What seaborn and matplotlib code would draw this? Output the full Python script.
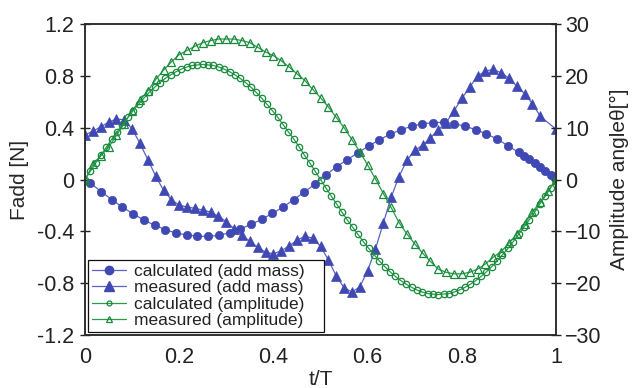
import numpy as np
import pandas as pd
import seaborn as sns
import matplotlib
matplotlib.use("Agg")
import matplotlib.pyplot as plt
from matplotlib.lines import Line2D

# ---- data -------------------------------------------------------------
# calculated added-mass force (N): odd steps of a 1/88 grid, then every step near the end
calc_mass_t = [1, 3, 5, 7, 9, 11, 13, 15, 17, 19, 21, 23, 25, 27, 29, 31, 33, 35, 37, 39,
               41, 43, 45, 47, 49, 51, 53, 55, 57, 59, 61, 63, 65, 67, 69, 71, 73, 75, 77,
               79, 81, 82, 83, 84, 85, 86, 87, 88]
calc_mass_f = [-0.028, -0.093, -0.155, -0.214, -0.265, -0.313, -0.353, -0.387, -0.413, -0.428,
               -0.438, -0.439, -0.431, -0.411, -0.382, -0.346, -0.308, -0.261, -0.213, -0.155,
               -0.096, -0.034, 0.034, 0.099, 0.153, 0.207, 0.258, 0.307, 0.349, 0.384, 0.411,
               0.429, 0.439, 0.441, 0.431, 0.411, 0.385, 0.352, 0.312, 0.262, 0.209, 0.183,
               0.155, 0.126, 0.096, 0.065, 0.035, 0.0]

# measured added-mass force (N), sampled every 1/60 period
meas_mass_t = list(range(0, 59)) + [60]
meas_mass_f = [0.345, 0.372, 0.407, 0.442, 0.467, 0.461, 0.390, 0.279, 0.153, 0.027,
               -0.083, -0.157, -0.198, -0.212, -0.223, -0.236, -0.252, -0.283, -0.326, -0.380,
               -0.430, -0.477, -0.523, -0.562, -0.574, -0.550, -0.512, -0.469, -0.438, -0.453,
               -0.516, -0.620, -0.744, -0.835, -0.868, -0.829, -0.705, -0.537, -0.336, -0.137,
               0.023, 0.147, 0.225, 0.264, 0.320, 0.385, 0.439, 0.529, 0.626, 0.712,
               0.798, 0.837, 0.850, 0.824, 0.781, 0.721, 0.662, 0.585, 0.488, 0.388]

# calculated amplitude angle (deg), every 1/88 period
calc_amp_t = list(range(0, 89))
calc_amp_deg = [0.0, 1.6, 3.2, 4.7, 6.3, 7.8, 9.2, 10.6, 12.0, 13.3, 14.5, 15.7, 16.8, 17.8,
                18.7, 19.5, 20.2, 20.8, 21.3, 21.7, 22.0, 22.1, 22.2, 22.1, 22.0, 21.7, 21.3,
                20.8, 20.2, 19.5, 18.7, 17.8, 16.8, 15.7, 14.5, 13.3, 12.0, 10.6, 9.2, 7.8,
                6.3, 4.7, 3.2, 1.6, 0.0, -1.6, -3.2, -4.7, -6.3, -7.8, -9.2, -10.6, -12.0,
                -13.3, -14.5, -15.7, -16.8, -17.8, -18.7, -19.5, -20.2, -20.8, -21.3, -21.7,
                -22.0, -22.1, -22.2, -22.1, -22.0, -21.7, -21.3, -20.8, -20.2, -19.5, -18.7,
                -17.8, -16.8, -15.7, -14.5, -13.3, -12.0, -10.6, -9.2, -7.8, -6.3, -4.7,
                -3.2, -1.6, 0.0]

# measured amplitude angle (deg), every 1/60 period
meas_amp_t = list(range(0, 61))
meas_amp_deg = [0.0, 2.9, 4.6, 6.2, 8.5, 10.8, 13.3, 15.3, 17.1, 19.3, 21.1, 22.7, 24.1,
                24.9, 25.7, 26.4, 26.8, 27.1, 27.1, 27.1, 26.8, 26.4, 25.5, 24.6, 23.9,
                22.9, 21.7, 20.4, 19.1, 17.4, 15.8, 14.0, 12.0, 10.0, 7.7, 5.4, 2.8, 0.1,
                -2.7, -5.4, -8.3, -10.5, -12.4, -14.2, -15.8, -17.3, -17.9, -18.2, -18.2,
                -17.9, -17.3, -16.3, -15.0, -13.9, -12.3, -10.5, -8.6, -6.3, -4.3, -2.2, 0.0]

labels = ["calculated (add mass)", "measured (add mass)",
          "calculated (amplitude)", "measured (amplitude)"]
x_ticks = [0, 0.2, 0.4, 0.6, 0.8, 1]
x_ticklabels = ["0", "0.2", "0.4", "0.6", "0.8", "1"]
f_ticks = [-1.2, -0.8, -0.4, 0, 0.4, 0.8, 1.2]
f_ticklabels = ["-1.2", "-0.8", "-0.4", "0", "0.4", "0.8", "1.2"]
deg_ticks = [-30, -20, -10, 0, 10, 20, 30]

df_cm = pd.DataFrame({"t": np.array(calc_mass_t) / 88, "v": calc_mass_f})
df_mm = pd.DataFrame({"t": np.array(meas_mass_t) / 60, "v": meas_mass_f})
df_ca = pd.DataFrame({"t": np.array(calc_amp_t) / 88, "v": calc_amp_deg})
df_ma = pd.DataFrame({"t": np.array(meas_amp_t) / 60, "v": meas_amp_deg})

# ---- style ------------------------------------------------------------
sns.set_theme(style="white")
plt.rcParams["font.family"] = ["Liberation Sans", "DejaVu Sans"]
plt.rcParams["axes.linewidth"] = 1.1
plt.rcParams["axes.edgecolor"] = "#2b2b2b"

BLUE = "#4049b3"
BLUE_LINE = "#5a63c2"
GREEN = "#178a3c"
GREEN_LINE = "#2a9a4a"

fig = plt.figure(figsize=(6.35, 3.88), dpi=100)
ax = fig.add_axes([0.1339, 0.1366, 0.7417, 0.8015])
ax2 = ax.twinx()

sns.lineplot(data=df_cm, x="t", y="v", ax=ax, color=BLUE_LINE, lw=0.9,
             marker="o", ms=6, mfc=BLUE, mec=BLUE, mew=0.5)
sns.lineplot(data=df_mm, x="t", y="v", ax=ax, color=BLUE_LINE, lw=0.9,
             marker="^", ms=6.8, mfc=BLUE, mec=BLUE, mew=0.5)
sns.lineplot(data=df_ca, x="t", y="v", ax=ax2, color=GREEN_LINE, lw=0.9,
             marker="o", ms=4.6, mfc="none", mec=GREEN, mew=0.9)
sns.lineplot(data=df_ma, x="t", y="v", ax=ax2, color=GREEN_LINE, lw=0.9,
             marker="^", ms=5.4, mfc="none", mec=GREEN, mew=0.9)

ax.set_xlim(0, 1)
ax.set_ylim(-1.2, 1.2)
ax2.set_ylim(-30, 30)

ax.set_xticks(x_ticks)
ax.set_xticklabels(x_ticklabels)
ax.set_yticks(f_ticks)
ax.set_yticklabels(f_ticklabels)
ax2.set_yticks(deg_ticks)

fs_tick = 15.5
fs_label = 15
ax.tick_params(axis="x", direction="out", length=4, width=1, labelsize=fs_tick, pad=5,
               colors="#222222")
ax.tick_params(axis="y", direction="inout", length=7, width=1, labelsize=fs_tick, pad=4,
               colors="#222222")
ax2.tick_params(axis="y", direction="inout", length=7, width=1, labelsize=fs_tick, pad=3,
                colors="#222222")
for a in (ax, ax2):
    for sp in a.spines.values():
        sp.set_visible(True)
        sp.set_color("#2b2b2b")
        sp.set_linewidth(1.1)

ax.set_xlabel("t/T", fontsize=fs_label, labelpad=1)
ax.set_ylabel("Fadd [N]", fontsize=fs_label, labelpad=6)
ax2.set_ylabel("Amplitude angle\u03b8[\u00b0]", fontsize=fs_label, labelpad=6)
ax.grid(False)
ax2.grid(False)

handles = [
    Line2D([], [], color=BLUE_LINE, lw=0.9, marker="o", ms=6, mfc=BLUE, mec=BLUE),
    Line2D([], [], color=BLUE_LINE, lw=0.9, marker="^", ms=6.8, mfc=BLUE, mec=BLUE),
    Line2D([], [], color=GREEN_LINE, lw=0.9, marker="o", ms=3.5, mfc="none", mec=GREEN, mew=0.9),
    Line2D([], [], color=GREEN_LINE, lw=0.9, marker="^", ms=4, mfc="none", mec=GREEN, mew=0.9),
]
leg = ax2.legend(handles, labels, loc="lower left",
                 bbox_to_anchor=(0.0064, 0.01, 0.501, 0.22), mode="expand",
                 borderaxespad=0, fontsize=12.5, frameon=True, fancybox=False,
                 edgecolor="#111111", framealpha=1, handlelength=2.0,
                 handletextpad=0.45, labelspacing=0.08, borderpad=0.2, numpoints=1)
leg.get_frame().set_linewidth(0.9)
for t in leg.get_texts():
    t.set_color("#222222")

fig.savefig("out.png", dpi=100)
